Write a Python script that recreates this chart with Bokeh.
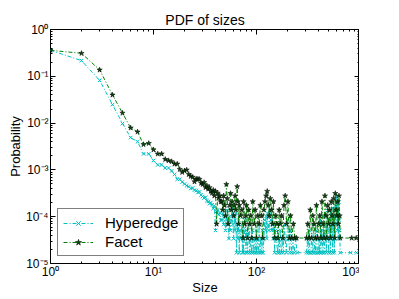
from bokeh.plotting import figure
from bokeh.models import (LogAxis, FixedTicker, CustomJSTickFormatter, Range1d, Legend, LegendItem)
from bokeh.embed import file_html
from bokeh.resources import INLINE

# ---------------- data ----------------
hyper_sizes = [1, 2, 3, 4, 5, 6, 7, 8, 9, 10, 11, 12, 13, 14, 15, 16, 17, 18, 19, 20,
               21, 22, 23, 24, 25, 26, 27, 28, 29, 30, 31, 32, 33, 34, 35, 36, 37, 38, 39, 40,
               41, 42, 43, 44, 45,
               46, 47, 48, 49, 50, 51, 52, 53, 54, 55, 56, 57, 58, 59, 60, 61, 62, 63, 64, 65,
               66, 67, 68, 69, 70, 72, 73, 74, 75, 76, 78, 79, 80, 82, 83, 85, 86, 88, 90, 91,
               93, 95, 97, 99, 100, 102, 104, 106, 108, 110, 112, 114, 116, 118, 120, 122, 124,
               126, 128, 130, 132, 135, 138, 140, 142, 145, 148, 150, 153, 156, 160, 163, 166,
               170, 174, 178, 182, 186, 190, 195, 200, 205, 210, 215, 220, 226, 232, 240, 248,
               306, 312, 318, 324, 330, 336, 342, 350, 356, 362, 370, 376, 382, 390, 396, 402,
               410, 416, 422, 430, 436, 442, 450, 456, 462, 470, 476, 482, 490, 496, 502, 510,
               516, 522, 530, 536, 542, 550, 556, 562, 570, 576, 582, 590, 596, 602, 610, 616,
               622, 630, 636, 642, 650, 820, 940]
hyper_probs = [0.36, 0.216, 0.082, 0.0248, 0.0098, 0.0049, 0.0040, 0.0022, 0.0022, 0.00158,
               0.00128, 0.00128, 0.0011, 0.0011, 0.00095, 0.0008, 0.00063, 0.00063, 0.00055, 0.0005,
               0.00046, 0.00044, 0.0004, 0.00041, 0.00037, 0.00036, 0.00033, 0.00034, 0.00029, 0.00027,
               0.00025, 0.00026, 0.00022, 0.00021, 0.00019, 0.0002, 0.00018, 0.00015, 0.00017, 5.1e-05,
               0.00013, 0.00014, 0.00011, 0.00012, 8.5e-05,
               8.5e-05, 0.000119, 6.8e-05, 0.000102, 5.1e-05, 8.5e-05, 0.000136, 6.8e-05, 3.4e-05, 0.000102,
               5.1e-05, 8.5e-05, 0.000153, 6.8e-05, 3.4e-05, 0.000102, 5.1e-05, 0.000119, 1.7e-05, 6.8e-05,
               3.4e-05, 8.5e-05, 1.7e-05, 5.1e-05, 3.4e-05, 6.8e-05, 1.7e-05, 5.1e-05, 1.7e-05, 3.4e-05,
               8.5e-05, 1.7e-05, 5.1e-05, 1.7e-05, 3.4e-05, 6.8e-05, 1.7e-05, 3.4e-05, 1.7e-05, 5.1e-05,
               1.7e-05, 3.4e-05, 1.7e-05, 5.1e-05, 1.7e-05, 3.4e-05, 1.7e-05, 6.8e-05, 1.7e-05, 3.4e-05,
               1.7e-05, 5.1e-05, 1.7e-05, 3.4e-05, 8.5e-05, 5.1e-05, 0.000102, 3.4e-05, 0.000119, 6.8e-05,
               5.1e-05, 0.000136, 8.5e-05, 5.1e-05, 0.000102, 3.4e-05, 6.8e-05, 1.7e-05, 5.1e-05, 3.4e-05,
               1.7e-05, 3.4e-05, 1.7e-05, 5.1e-05, 1.7e-05, 3.4e-05, 1.7e-05, 6.8e-05, 3.4e-05, 1.7e-05,
               8.5e-05, 3.4e-05, 1.7e-05, 5.1e-05, 1.7e-05, 3.4e-05, 1.7e-05, 3.4e-05, 1.7e-05,
               1.7e-05, 3.4e-05, 1.7e-05, 5.1e-05, 1.7e-05, 1.7e-05, 3.4e-05, 1.7e-05, 6.8e-05, 1.7e-05,
               3.4e-05, 1.7e-05, 5.1e-05, 1.7e-05, 1.7e-05, 3.4e-05, 1.7e-05, 8.5e-05, 1.7e-05, 5.1e-05,
               3.4e-05, 1.7e-05, 0.000102, 1.7e-05, 3.4e-05, 6.8e-05, 1.7e-05, 5.1e-05, 0.000136, 3.4e-05,
               1.7e-05, 8.5e-05, 5.1e-05, 1.7e-05, 0.000119, 3.4e-05, 6.8e-05, 1.7e-05, 0.000153, 5.1e-05,
               1.7e-05, 0.000102, 3.4e-05, 0.00017, 6.8e-05, 0.00027, 5.1e-05, 0.000136, 3.4e-05, 0.000204,
               8.5e-05, 5.1e-05, 1.7e-05, 1.7e-05, 1.7e-05]

facet_sizes = [1, 2, 3, 4, 5, 6, 7, 8, 9, 10, 11, 12, 13, 14, 15, 16, 17, 18, 19, 20,
               21, 22, 23, 24, 25, 26, 27, 28, 29, 30, 31, 32, 33, 34, 35, 36, 37, 38, 39, 40,
               41, 42, 43, 44, 45,
               46, 47, 48, 49, 50, 51, 52, 53, 55, 56, 57, 58, 60, 61, 62, 63, 65, 66, 67, 68,
               70, 72, 74, 75, 77, 79, 80, 82, 84, 86, 88, 90, 92, 95, 97, 100, 103, 106, 109,
               112, 115, 118, 121, 124, 127, 130, 133, 136, 140, 143, 146, 150, 154, 158, 162,
               166, 170, 175, 180, 185, 190, 196, 202, 208, 214, 220, 228, 236, 245,
               306, 315, 324, 333, 342, 352, 362, 372, 382, 392, 402, 412, 422, 432, 442, 452,
               462, 472, 482, 492, 502, 512, 522, 532, 542, 552, 562, 572, 582, 592, 602, 612,
               622, 632, 642, 650, 840, 930]
facet_probs = [0.36, 0.31, 0.137, 0.040, 0.0164, 0.0079, 0.0065, 0.0035, 0.0037, 0.0027,
               0.0022, 0.0022, 0.00168, 0.00158, 0.00151, 0.00134, 0.00134, 0.00103, 0.00089, 0.00096,
               0.001, 0.0008, 0.00073, 0.0007, 0.00056, 0.00064, 0.00064, 0.00063, 0.00052, 0.00049,
               0.00054, 0.00042, 0.00046, 0.00039, 0.00042, 0.00035, 0.00032, 0.00037, 0.00028, 0.00035,
               7e-05, 0.00032, 0.00025, 0.00028, 0.00021,
               0.00021, 0.00014, 0.00028, 0.000175, 0.000105, 0.00049, 0.000245, 7e-05, 0.000175, 0.000315,
               0.00014, 0.00021, 0.000105, 0.000175, 0.00028, 0.00014, 0.00044, 0.00021, 7e-05, 0.000175,
               0.000105, 0.00014, 3.5e-05, 0.00021, 7e-05, 0.000105, 0.000175, 3.5e-05, 0.00014, 7e-05,
               0.000105, 3.5e-05, 0.00021, 7e-05, 0.00014, 3.5e-05, 0.000105, 7e-05, 0.000175, 0.000105,
               3.5e-05, 0.00014, 0.00021, 0.00028, 0.00035, 0.000175, 0.000105, 0.000245, 0.00014, 7e-05,
               0.00021, 3.5e-05, 0.000105, 7e-05, 3.5e-05, 0.00014, 7e-05, 0.000105, 3.5e-05, 0.000175,
               0.00028, 7e-05, 0.00021, 3.5e-05, 0.000105, 3.5e-05, 7e-05, 3.5e-05, 3.5e-05,
               3.5e-05, 7e-05, 3.5e-05, 0.00014, 3.5e-05, 0.000105, 7e-05, 3.5e-05, 0.000175, 3.5e-05,
               7e-05, 0.000105, 3.5e-05, 0.00021, 7e-05, 3.5e-05, 0.00028, 0.000105, 3.5e-05, 0.000175,
               7e-05, 0.00014, 3.5e-05, 0.00021, 0.000105, 7e-05, 0.000245, 3.5e-05, 0.000315, 0.00014,
               0.000105, 0.00021, 7e-05, 0.00028, 0.000105, 3.5e-05, 3.5e-05, 3.5e-05]

x_major = [1, 10, 100, 1000]
y_major = [1e-5, 1e-4, 1e-3, 1e-2, 1e-1, 1]

FONT = "Liberation Sans"
CYAN = "#00BFBF"
GREEN = "#008000"

p = figure(x_axis_type="log", y_axis_type="log",
           x_range=Range1d(1, 1000), y_range=Range1d(1e-5, 1),
           output_backend="svg", toolbar_location=None,
           frame_width=309, frame_height=234,
           min_border_left=50, min_border_right=0, min_border_top=29, min_border_bottom=0,
           title="PDF of sizes")
p.title.text_font = FONT
p.title.text_font_size = "14px"
p.title.text_font_style = "normal"
p.title.text_color = "black"
p.title.align = "center"
p.title.standoff = 4

p.grid.visible = False
p.outline_line_color = "black"
p.outline_line_width = 1
p.background_fill_color = "white"
p.border_fill_color = "white"

sup = CustomJSTickFormatter(code="""
const e = Math.round(Math.log10(tick));
const m = {'-':'\u207B','0':'\u2070','1':'\u00B9','2':'\u00B2','3':'\u00B3','4':'\u2074','5':'\u2075','6':'\u2076','7':'\u2077','8':'\u2078','9':'\u2079'};
return '10' + String(e).split('').map(c => m[c]).join('');
""")
blank = CustomJSTickFormatter(code="return '';")

def minors(majors):
    out = []
    for m in majors[:-1]:
        for k in range(2, 10):
            out.append(m * k)
    return out

xt = FixedTicker(ticks=x_major, minor_ticks=minors(x_major))
yt = FixedTicker(ticks=y_major, minor_ticks=minors(y_major))

def style(ax):
    ax.major_tick_in = 5
    ax.major_tick_out = 0
    ax.minor_tick_in = 2
    ax.minor_tick_out = 0
    ax.major_tick_line_color = "black"
    ax.minor_tick_line_color = "black"
    ax.axis_line_color = None
    ax.major_label_text_font = FONT
    ax.major_label_text_font_size = "12px"
    ax.major_label_text_color = "black"
    ax.major_label_standoff = 2
    ax.axis_label_text_font = FONT
    ax.axis_label_text_font_size = "13px"
    ax.axis_label_text_font_style = "normal"
    ax.axis_label_text_color = "black"
    ax.axis_label_standoff = 0

p.xaxis.ticker = xt
p.yaxis.ticker = yt
p.xaxis.formatter = sup
p.yaxis.formatter = sup
style(p.xaxis[0])
style(p.yaxis[0])
p.xaxis.major_label_standoff = 1
p.xaxis.axis_label_standoff = -2
p.xaxis.axis_label = "Size"
p.yaxis.axis_label = "Probability"

top = LogAxis(ticker=xt, formatter=blank)
style(top)
top.major_label_text_font_size = "0px"
top.major_label_standoff = 0
right = LogAxis(ticker=yt, formatter=blank)
style(right)
right.major_label_text_font_size = "0px"
right.major_label_standoff = 0
p.add_layout(top, "above")
p.add_layout(right, "right")

h_line = p.line(hyper_sizes, hyper_probs, line_color=CYAN, line_width=1, line_dash="4 2 1 2")
h_pts = p.scatter(hyper_sizes, hyper_probs, marker="x", size=5, line_color=CYAN, line_width=1)
f_line = p.line(facet_sizes, facet_probs, line_color=GREEN, line_width=1, line_dash="4 2 1 2")
f_pts = p.scatter(facet_sizes, facet_probs, marker="star", size=5.5, fill_color="#0b4a0b",
                  line_color="black", line_width=0.5)

legend = Legend(items=[LegendItem(label="Hyperedge", renderers=[h_line, h_pts]),
                       LegendItem(label="Facet", renderers=[f_line, f_pts])],
                location="bottom_left")
legend.label_text_font = FONT
legend.label_text_font_size = "15px"
legend.label_text_color = "black"
legend.border_line_color = "black"
legend.border_line_width = 1
legend.background_fill_alpha = 1
legend.glyph_width = 30
legend.glyph_height = 16
legend.label_height = 16
legend.label_standoff = 12
legend.padding = 5
legend.spacing = 2
legend.margin = 7
p.add_layout(legend, "center")

open("out.html", "w").write(file_html(p, INLINE))
